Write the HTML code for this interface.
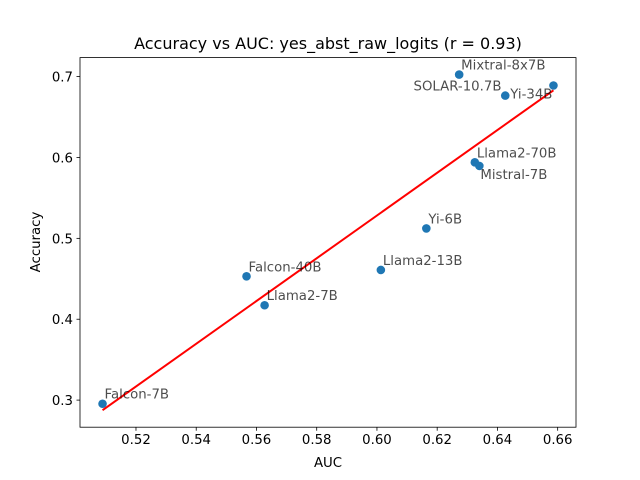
<!DOCTYPE html>
<html><head><meta charset="utf-8"><style>
body{margin:0;background:#fff}
svg{display:block;font-family:"DejaVu Sans","Liberation Sans",sans-serif}
</style></head><body>
<svg id="c" width="640" height="480" xmlns="http://www.w3.org/2000/svg">
<rect width="640" height="480" fill="#fff"/>
<text x="328" y="49" font-size="16" text-anchor="middle">Accuracy vs AUC: yes_abst_raw_logits (r = 0.93)</text>
<text x="328" y="467" font-size="13.3" text-anchor="middle">AUC</text>
<text transform="translate(40,242) rotate(-90)" font-size="13.3" text-anchor="middle">Accuracy</text>
<g id="g"></g>
</svg>
<script>
const models=["Falcon-7B","Falcon-40B","Llama2-7B","Llama2-13B","Yi-6B","Mixtral-8x7B","Llama2-70B","Mistral-7B","Yi-34B","SOLAR-10.7B"];
const auc=[0.5089,0.5567,0.5627,0.6013,0.6164,0.6273,0.6325,0.634,0.6426,0.6586];
const acc=[0.2955,0.4531,0.4173,0.4609,0.5123,0.7025,0.594,0.5896,0.6765,0.689];
const xTicks=[0.52,0.54,0.56,0.58,0.60,0.62,0.64,0.66];
const yTicks=[0.3,0.4,0.5,0.6,0.7];
const yLim=[0.2665,0.7235];
const L=80,R=576,T=57.6,B=427.2,NS="http://www.w3.org/2000/svg";
const g=document.getElementById('g');
const mn=a=>Math.min(...a),mx=a=>Math.max(...a);
const xr=mx(auc)-mn(auc);
const x0=mn(auc)-0.05*xr,x1=mx(auc)+0.05*xr,y0=yLim[0],y1=yLim[1];
const X=v=>L+(v-x0)/(x1-x0)*(R-L);
const Y=v=>B-(v-y0)/(y1-y0)*(B-T);
function mk(t,a,p){const e=document.createElementNS(NS,t);for(const k in a)e.setAttribute(k,a[k]);(p||g).appendChild(e);return e;}
xTicks.forEach(t=>{const x=X(t);
 const l=mk('line',{x1:x,x2:x,y1:B,y2:B+3.5,stroke:'#000','stroke-width':0.8});
 
 
 const s=mk('text',{x:x,y:B+17,'font-size':13.3,'text-anchor':'middle'});s.textContent=t.toFixed(2);
 
 });
yTicks.forEach(t=>{const y=Y(t);
 const l=mk('line',{x1:L-3.5,x2:L,y1:y,y2:y,stroke:'#000','stroke-width':0.8});
 
 
 const s=mk('text',{x:L-7,y:y+5,'font-size':13.3,'text-anchor':'end'});s.textContent=t.toFixed(1);
 
 });
const n=auc.length,ma=auc.reduce((a,b)=>a+b)/n,mb=acc.reduce((a,b)=>a+b)/n;
let sxy=0,sxx=0;for(let i=0;i<n;i++){sxy+=(auc[i]-ma)*(acc[i]-mb);sxx+=(auc[i]-ma)**2;}
const sl=sxy/sxx,ic=mb-sl*ma;
auc.forEach((a,i)=>{const c=mk('circle',{cx:X(a),cy:Y(acc[i]),r:4.3,fill:'#1f77b4'});
 
 });
const fl=mk('line',{x1:X(mn(auc)),y1:Y(ic+sl*mn(auc)),x2:X(mx(auc)),y2:Y(ic+sl*mx(auc)),stroke:'#f00','stroke-width':2});


const off={"SOLAR-10.7B":[-52,5,'end'],"Yi-34B":[5,3,'start'],"Mistral-7B":[1,13,'start']};
models.forEach((m,i)=>{const o=off[m]||[2,-5,'start'];
 const t=mk('text',{x:X(auc[i])+o[0],y:Y(acc[i])+o[1],'font-size':13.3,'text-anchor':o[2],fill:'#000','fill-opacity':0.7});t.textContent=m;
 
 });
const fr=mk('rect',{x:L,y:T,width:R-L,height:B-T,fill:'none',stroke:'#000','stroke-width':0.8});


</script>
</body></html>
